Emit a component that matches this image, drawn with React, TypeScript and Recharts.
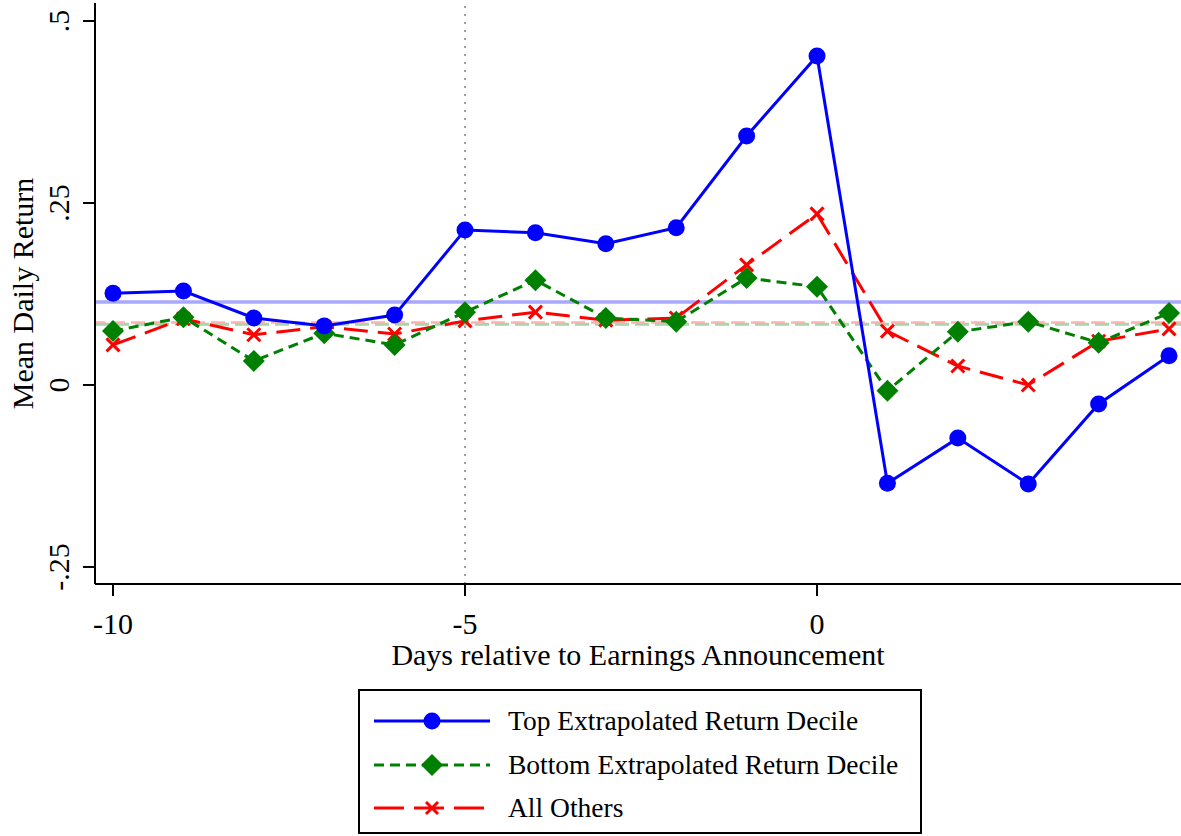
import React from 'react';
import { LineChart, Line, XAxis, YAxis, ReferenceLine } from 'recharts';

const days = [-10, -9, -8, -7, -6, -5, -4, -3, -2, -1, 0, 1, 2, 3, 4, 5];
const topDecile = [0.126, 0.129, 0.092, 0.081, 0.096, 0.213, 0.209, 0.194, 0.216, 0.342, 0.452, -0.135, -0.073, -0.136, -0.026, 0.04];
const bottomDecile = [0.074, 0.093, 0.033, 0.071, 0.055, 0.1, 0.144, 0.092, 0.087, 0.147, 0.135, -0.008, 0.073, 0.087, 0.058, 0.099];
const allOthers = [0.055, 0.091, 0.069, 0.08, 0.07, 0.088, 0.1, 0.089, 0.092, 0.165, 0.235, 0.074, 0.026, 0.0, 0.06, 0.077];

// overall means drawn as horizontal lines
const topMean = 0.114;
const bottomMean = 0.0835;
const othersMean = 0.0858;
const eventDay = -5;

const xTicks = [-10, -5, 0];
const yTicks = [-0.25, 0, 0.25, 0.5];
const yTickLabels = ['-.25', '0', '.25', '.5'];

const seriesNames = ['Top Extrapolated Return Decile', 'Bottom Extrapolated Return Decile', 'All Others'];

const data = days.map((d, i) => ({
  day: d,
  top: topDecile[i],
  bottom: bottomDecile[i],
  others: allOthers[i],
}));

const FONT = "'Liberation Serif', 'Times New Roman', serif";
const BLUE = '#0000ff';
const GREEN = '#008000';
const RED = '#ff0000';

const YTick = (props: any) => {
  const { x, y, payload } = props;
  const idx = yTicks.indexOf(payload.value);
  return (
    <text x={x} y={y} transform={`rotate(-90 ${x} ${y})`} textAnchor="middle" fontSize={30} fontFamily={FONT} fill="#000">
      {idx >= 0 ? yTickLabels[idx] : payload.value}
    </text>
  );
};

const XTick = (props: any) => {
  const { x, y, payload } = props;
  return (
    <text x={x} y={y + 21} textAnchor="middle" fontSize={30} fontFamily={FONT} fill="#000">
      {payload.value}
    </text>
  );
};

const YTitle = (props: any) => {
  const vb = props.viewBox;
  const cx = 33;
  const cy = vb.y + vb.height / 2;
  return (
    <text x={cx} y={cy} transform={`rotate(-90 ${cx} ${cy})`} textAnchor="middle" fontSize={30} fontFamily={FONT} fill="#000">
      Mean Daily Return
    </text>
  );
};

const XTitle = (props: any) => {
  const vb = props.viewBox;
  return (
    <text x={vb.x + vb.width / 2} y={vb.y + 81} textAnchor="middle" fontSize={30} fontFamily={FONT} fill="#000">
      Days relative to Earnings Announcement
    </text>
  );
};

const circleDot = (props: any) => {
  const { cx, cy, index } = props;
  return <circle key={`c${index}`} cx={cx} cy={cy} r={8.5} fill={BLUE} stroke="none" />;
};

const diamondDot = (props: any) => {
  const { cx, cy, index } = props;
  const s = 11;
  return <path key={`d${index}`} d={`M${cx},${cy - s}L${cx + s},${cy}L${cx},${cy + s}L${cx - s},${cy}Z`} fill={GREEN} stroke="none" />;
};

const crossDot = (props: any) => {
  const { cx, cy, index } = props;
  const s = 6.5;
  return (
    <path key={`x${index}`} d={`M${cx - s},${cy - s}L${cx + s},${cy + s}M${cx - s},${cy + s}L${cx + s},${cy - s}`} stroke={RED} strokeWidth={3} fill="none" />
  );
};

const LegendRow = ({ kind, label, top }: { kind: number; label: string; top: number }) => {
  const color = [BLUE, GREEN, RED][kind];
  const dash = ['', '10 6', '30 10'][kind];
  return (
    <div style={{ position: 'absolute', left: 12, top: top - 14, height: 28, display: 'flex', alignItems: 'center' }}>
      <svg width={120} height={28}>
        <line x1={2} y1={14} x2={118} y2={14} stroke={color} strokeWidth={3} strokeDasharray={dash || undefined} />
        {kind === 0 && <circle cx={60} cy={14} r={8.5} fill={BLUE} />}
        {kind === 1 && <path d="M60,3L71,14L60,25L49,14Z" fill={GREEN} />}
        {kind === 2 && <path d="M54,8L66,20M54,20L66,8" stroke={RED} strokeWidth={3} />}
      </svg>
      <span style={{ marginLeft: 16, fontSize: 27.5, fontFamily: FONT, color: '#000', whiteSpace: 'nowrap' }}>{label}</span>
    </div>
  );
};

export default function App() {
  return (
    <div style={{ position: 'absolute', left: 0, top: 0, width: 1181, height: 836, background: '#fff', overflow: 'hidden' }}>
      <LineChart width={1181} height={680} data={data} margin={{ top: 3, right: 0, bottom: 0, left: 0 }}>
        <XAxis
          dataKey="day"
          type="number"
          domain={[-10.256, 5.17]}
          allowDataOverflow
          ticks={xTicks}
          tickSize={12}
          tickMargin={17}
          height={96}
          tick={<XTick />}
          axisLine={{ stroke: '#000', strokeWidth: 2 }}
          tickLine={{ stroke: '#000', strokeWidth: 2 }}
          label={<XTitle />}
        />
        <YAxis
          type="number"
          domain={[-0.2734, 0.5247]}
          allowDataOverflow
          ticks={yTicks}
          tickSize={12}
          tickMargin={14}
          width={95}
          tick={<YTick />}
          axisLine={{ stroke: '#000', strokeWidth: 2 }}
          tickLine={{ stroke: '#000', strokeWidth: 2 }}
          label={<YTitle />}
        />
        <ReferenceLine x={eventDay} stroke="#a0a0a0" strokeWidth={2} strokeDasharray="2 6" />
        <ReferenceLine y={topMean} stroke="#a8a8ff" strokeWidth={3.5} />
        <ReferenceLine y={bottomMean} stroke="#a8d4a8" strokeWidth={3} strokeDasharray="14 6" />
        <ReferenceLine y={othersMean} stroke="#ffb0b0" strokeWidth={2.5} strokeDasharray="14 6" strokeDashoffset={4} />
        <Line dataKey="others" name={seriesNames[2]} stroke={RED} strokeWidth={3} strokeDasharray="24 10" dot={crossDot} isAnimationActive={false} />
        <Line dataKey="bottom" name={seriesNames[1]} stroke={GREEN} strokeWidth={3} strokeDasharray="10 6" dot={diamondDot} isAnimationActive={false} />
        <Line dataKey="top" name={seriesNames[0]} stroke={BLUE} strokeWidth={3} dot={circleDot} isAnimationActive={false} />
      </LineChart>
      <div style={{ position: 'absolute', left: 358, top: 689, width: 564, height: 145, border: '2px solid #000', boxSizing: 'border-box' }}>
        <LegendRow kind={0} label={seriesNames[0]} top={30} />
        <LegendRow kind={1} label={seriesNames[1]} top={74} />
        <LegendRow kind={2} label={seriesNames[2]} top={117} />
      </div>
    </div>
  );
}
